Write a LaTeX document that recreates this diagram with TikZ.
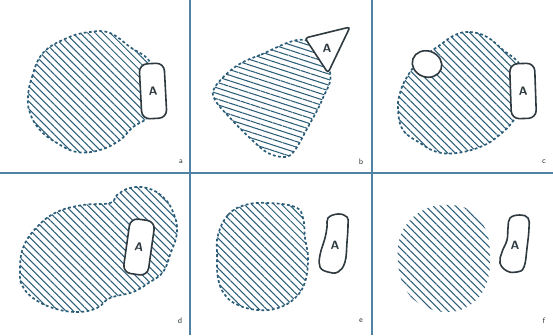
\documentclass[tikz,border=0pt]{standalone}
\usepackage{tikz}
\usetikzlibrary{patterns.meta, shapes.geometric}
\definecolor{mline}{HTML}{4F82A3}
\definecolor{mink}{HTML}{2B5D78}
\definecolor{mtext}{HTML}{2E3A40}
\tikzset{
  sepline/.style={mline, line width=1.4pt},
  hatched/.style={preaction={draw=none, solid,
               pattern={Lines[angle=#1, distance=5.3pt, line width=1.05pt]}, pattern color=mink}},
  hatched/.default=-45,
  zone/.style={hatched=#1, draw=mink, line width=1.7pt, dash pattern=on 2.8pt off 2.4pt},
  zone/.default=-45,
  abox/.style={draw=mtext, fill=white, line width=1.6pt, rounded corners=8pt,
               minimum width=25pt, minimum height=55pt, inner sep=0pt,
               font=\sffamily\bfseries\large, text=mtext},
  ablob/.style={draw=mtext, fill=white, line width=1.6pt},
  alab/.style={font=\sffamily\bfseries\large, text=mtext, inner sep=0pt},
  plab/.style={font=\sffamily\footnotesize, text=mtext, inner sep=0pt},
}
\begin{document}
\begin{tikzpicture}[x=1pt, y=-1pt]
  \useasboundingbox (0,0) rectangle (553,335);

  % separators
  \draw[sepline] (0,173) -- (553,173);
  \draw[sepline] (190,0) -- (190,335);
  \draw[sepline] (372,0) -- (372,335);

  % a
  \draw[zone] plot[smooth cycle, tension=0.7] coordinates {
    (28,97) (32,77) (43,53) (67,38) (90,32) (110,33) (130,47) (150,62)
    (158,90) (150,115) (133,127) (120,140) (100,150) (77,152) (57,143) (40,130) (30,113)};
  \node[abox, rotate=3] (boxa) at (153,91) {A};
  \node[plab] (laba) at (181,162) {a};

  % b
  \draw[zone=-18] plot[smooth cycle, tension=0.6] coordinates {
    (305,40) (260,55) (235,67) (215,87) (215,100) (232,120) (252,140) (268,153)
    (285,157) (295,150) (308,127) (322,100) (330,72)};
  \draw[ablob, rounded corners=3pt] (305,38) -- (350,27) -- (328,73) -- cycle;
  \node[alab] (txtb) at (327,48) {A};
  \node[plab] (labb) at (361,162) {b};

  % c
  \draw[zone] plot[smooth cycle, tension=0.7] coordinates {
    (455,35) (470,32) (487,37) (503,50) (520,65) (525,90) (515,118) (497,137)
    (480,147) (457,153) (437,152) (420,143) (403,130) (398,110) (400,93) (407,77)
    (420,60) (440,45)};
  \draw[ablob, rotate around={-20:(427,64)}] (427,64) ellipse (15 and 13);
  \node[abox, rotate=2] (boxc) at (523,91) {A};
  \node[plab] (labc) at (544,162) {c};

  % d
  \draw[zone] plot[smooth cycle, tension=0.7] coordinates {
    (20,272) (23,248) (37,227) (57,212) (83,205) (110,203) (117,195) (130,188)
    (147,188) (163,197) (173,212) (177,232) (170,255) (163,272) (150,282) (133,292)
    (110,298) (97,308) (77,312) (53,308) (33,298) (22,285)};
  \node[abox, rotate=-8] (boxd) at (139,247) {A};
  \node[plab] (labd) at (180,321) {d};

  % e
  \draw[zone] plot[smooth cycle, tension=0.7] coordinates {
    (218,235) (228,215) (245,205) (268,203) (295,207) (303,218) (305,238) (308,258)
    (305,282) (295,298) (278,308) (258,310) (238,305) (225,295) (218,278) (217,255)};
  \draw[ablob] plot[smooth cycle, tension=0.7] coordinates {
    (328,218) (338,214) (347,217) (348,225) (347,242) (345,262) (338,272) (328,272)
    (320,267) (320,255) (325,238) (327,227)};
  \node[alab] (txte) at (335,245) {A};
  \node[plab] (labe) at (361,321) {e};

  % f
  \path[hatched] plot[smooth cycle, tension=0.7] coordinates {
    (444,205) (470,210) (485,228) (490,255) (486,285) (470,305) (448,312) (424,306)
    (406,290) (398,262) (402,232) (420,212)};
  \draw[ablob] plot[smooth cycle, tension=0.7] coordinates {
    (510,218) (520,215) (528,218) (529,228) (527,248) (524,267) (517,272) (507,271)
    (500,263) (502,252) (507,240) (508,228)};
  \node[alab] (txtf) at (515,245) {A};
  \node[plab] (labf) at (544,321) {f};
\end{tikzpicture}
\end{document}
